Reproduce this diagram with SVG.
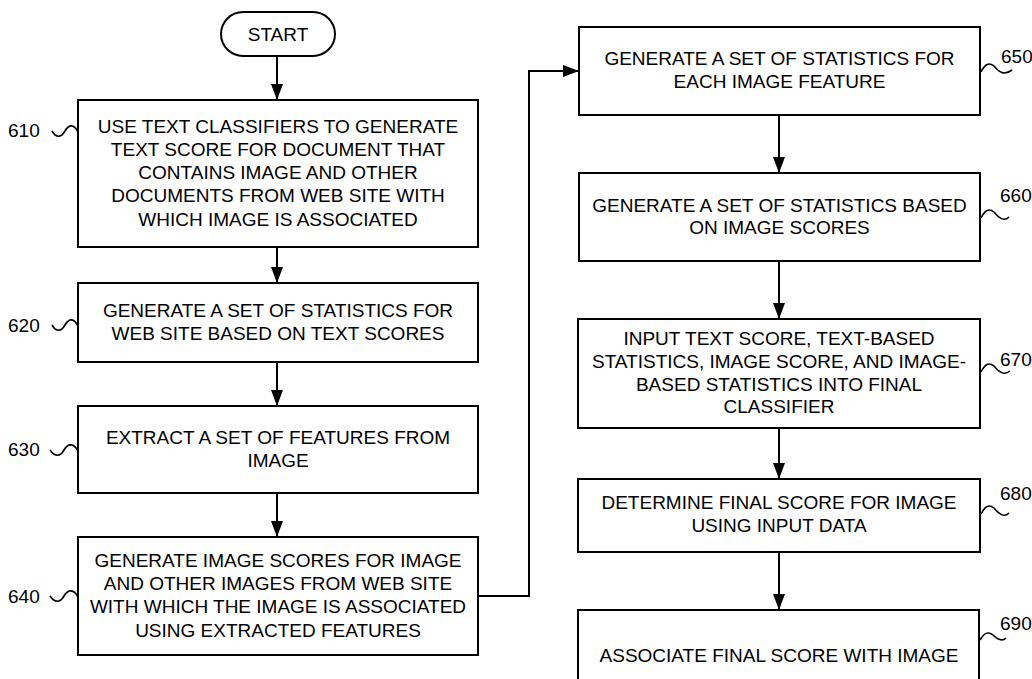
<svg xmlns="http://www.w3.org/2000/svg" width="1032" height="679" viewBox="0 0 1032 679">
<defs>
<marker id="arrow" markerUnits="userSpaceOnUse" markerWidth="16" markerHeight="12" refX="16" refY="6" orient="auto">
<path d="M0,0 L16,6 L0,12 z" fill="#000"/>
</marker>
<style>
.box{fill:#fff;stroke:#000;stroke-width:2}
.t{font-family:"Liberation Sans",Arial,sans-serif;font-size:19px;fill:#000;text-anchor:middle}
.lbl{font-family:"Liberation Sans",Arial,sans-serif;font-size:19px;fill:#000}
.sq{fill:none;stroke:#000;stroke-width:1.6}
.conn{fill:none;stroke:#000;stroke-width:2;marker-end:url(#arrow)}
</style>
</defs>
<rect width="1032" height="679" fill="#fff"/>
<g id="connectors">
<line class="conn" x1="277" y1="56" x2="277" y2="100"/>
<line class="conn" x1="277" y1="247" x2="277" y2="283"/>
<line class="conn" x1="277" y1="362" x2="277" y2="406"/>
<line class="conn" x1="277" y1="493" x2="277" y2="537"/>
<polyline class="conn" points="478,596 529,596 529,71 579,71"/>
<line class="conn" x1="779" y1="115" x2="779" y2="173"/>
<line class="conn" x1="779" y1="261" x2="779" y2="319"/>
<line class="conn" x1="779" y1="428" x2="779" y2="479"/>
<line class="conn" x1="779" y1="552" x2="779" y2="610"/>
</g>
<g id="start">
<rect class="box" x="221" y="12" width="114" height="44" rx="22" ry="22"/>
<text class="t" x="278" y="41">START</text>
</g>
<g id="n610">
<rect class="box" x="78" y="100" width="400" height="147"/>
<text class="t" x="278" y="133">USE TEXT CLASSIFIERS TO GENERATE</text>
<text class="t" x="278" y="156">TEXT SCORE FOR DOCUMENT THAT</text>
<text class="t" x="278" y="179">CONTAINS IMAGE AND OTHER</text>
<text class="t" x="278" y="202">DOCUMENTS FROM WEB SITE WITH</text>
<text class="t" x="278" y="226">WHICH IMAGE IS ASSOCIATED</text>
<text class="lbl" x="8" y="137">610</text>
<path class="sq" d="M52,131 C56,138 61,138 65,131 C69,124 74,124 78,132"/>
</g>
<g id="n620">
<rect class="box" x="78" y="283" width="400" height="79"/>
<text class="t" x="278" y="317">GENERATE A SET OF STATISTICS FOR</text>
<text class="t" x="278" y="340">WEB SITE BASED ON TEXT SCORES</text>
<text class="lbl" x="8" y="332">620</text>
<path class="sq" d="M52,325 C56,332 61,332 65,325 C69,318 74,318 78,326"/>
</g>
<g id="n630">
<rect class="box" x="78" y="406" width="400" height="87"/>
<text class="t" x="278" y="444">EXTRACT A SET OF FEATURES FROM</text>
<text class="t" x="278" y="467">IMAGE</text>
<text class="lbl" x="8" y="456">630</text>
<path class="sq" d="M50,450 C55,457 60,457 64,450 C68,443 74,443 78,451"/>
</g>
<g id="n640">
<rect class="box" x="78" y="537" width="400" height="118"/>
<text class="t" x="278" y="567">GENERATE IMAGE SCORES FOR IMAGE</text>
<text class="t" x="278" y="590">AND OTHER IMAGES FROM WEB SITE</text>
<text class="t" x="278" y="613">WITH WHICH THE IMAGE IS ASSOCIATED</text>
<text class="t" x="278" y="637">USING EXTRACTED FEATURES</text>
<text class="lbl" x="8" y="603">640</text>
<path class="sq" d="M50,596 C55,603 60,603 64,596 C68,589 74,589 78,597"/>
</g>
<g id="n650">
<rect class="box" x="579" y="27" width="401" height="88"/>
<text class="t" x="779.5" y="65">GENERATE A SET OF STATISTICS FOR</text>
<text class="t" x="779.5" y="88">EACH IMAGE FEATURE</text>
<text class="lbl" x="1001" y="63">650</text>
<path class="sq" d="M981,72 C985,64 989,62 994,66 C999,72 1004,76 1012,70"/>
</g>
<g id="n660">
<rect class="box" x="579" y="173" width="401" height="88"/>
<text class="t" x="779.5" y="212">GENERATE A SET OF STATISTICS BASED</text>
<text class="t" x="779.5" y="234">ON IMAGE SCORES</text>
<text class="lbl" x="1000" y="202">660</text>
<path class="sq" d="M981,218 C985,210 989,208 994,212 C999,218 1004,222 1009,217"/>
</g>
<g id="n670">
<rect class="box" x="578" y="319" width="402" height="109"/>
<text class="t" x="779" y="345">INPUT TEXT SCORE, TEXT-BASED</text>
<text class="t" x="779" y="368">STATISTICS, IMAGE SCORE, AND IMAGE-</text>
<text class="t" x="779" y="391">BASED STATISTICS INTO FINAL</text>
<text class="t" x="779" y="413">CLASSIFIER</text>
<text class="lbl" x="1000" y="366">670</text>
<path class="sq" d="M981,372 C985,364 989,362 994,366 C999,372 1004,376 1010,371"/>
</g>
<g id="n680">
<rect class="box" x="578" y="479" width="402" height="73"/>
<text class="t" x="779" y="509">DETERMINE FINAL SCORE FOR IMAGE</text>
<text class="t" x="779" y="532">USING INPUT DATA</text>
<text class="lbl" x="1000" y="500">680</text>
<path class="sq" d="M981,514 C985,506 989,504 994,508 C999,514 1004,518 1009,513"/>
</g>
<g id="n690">
<rect class="box" x="578" y="610" width="401" height="100"/>
<text class="t" x="779" y="662">ASSOCIATE FINAL SCORE WITH IMAGE</text>
<text class="lbl" x="1000" y="630">690</text>
<path class="sq" d="M980,640 C984,633 988,631 993,635 C998,640 1002,642 1006,638"/>
</g>
</svg>
